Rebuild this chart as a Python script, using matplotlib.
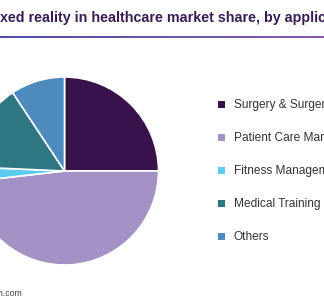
import matplotlib
matplotlib.use('Agg')
import matplotlib.pyplot as plt
from matplotlib.patches import Rectangle
from matplotlib.font_manager import FontProperties
import numpy as np

labels = ['Surgery & Surgery Planning', 'Patient Care Management', 'Fitness Management',
          'Medical Training & Education', 'Others']
shares = [25.0, 48.2, 2.5, 15.0, 9.3]
colors = ['#38124a', '#a592c5', '#5ccbf0', '#2f7683', '#4d8bbd']
title = 'Mixed reality in healthcare market share, by application, 2023 (%)'
source = 'Source: www.grandviewresearch.com'

W, H = 324, 300
fig = plt.figure(figsize=(W / 100, H / 100), dpi=100)

# pie, partly off the left edge
cx, cy, r = 64.5, 171, 94
ax = fig.add_axes([(cx - r) / W, (H - cy - r) / H, 2 * r / W, 2 * r / H])
ax.pie(shares, colors=colors, startangle=90, counterclock=False,
       wedgeprops=dict(edgecolor='white', linewidth=1.2))
ax.set_xlim(-1, 1)
ax.set_ylim(-1, 1)
ax.axis('off')

# title, shifted so that "Mi" falls off the left
fp = FontProperties(family='Liberation Sans', weight='bold', size=10.25)
rend = fig.canvas.get_renderer()
w_mi, _, _ = rend.get_text_width_height_descent('Mi', fp, ismath=False)
fig.text((-w_mi + 0.5) / W, 1 - 22 / H, title, fontproperties=fp,
         color='#3a1d55', ha='left', va='baseline')

# gradient rule under the title
gax = fig.add_axes([0, 1 - 38 / H, 1, 2 / H])
grad = np.linspace(0, 1, 256).reshape(1, -1)
cmap = matplotlib.colors.LinearSegmentedColormap.from_list('rule', ['#4a50a8', '#8a5ab0'])
gax.imshow(grad, aspect='auto', cmap=cmap)
gax.axis('off')

# legend
for i, (lab, col) in enumerate(zip(labels, colors)):
    y = 104.7 + i * 33
    fig.patches.append(Rectangle((218 / W, 1 - (y + 3.5) / H), 7 / W, 7 / H,
                                 transform=fig.transFigure, facecolor=col, edgecolor='none'))
    fig.text(234 / W, 1 - y / H, lab, family='Liberation Sans', fontsize=8.6,
             color='#333333', ha='left', va='center')

fig.text(22 / W, 1 - 293 / H, source, family='Liberation Sans', fontsize=6.3,
         color='#444444', ha='right', va='center')

plt.savefig('out.png', dpi=100)
